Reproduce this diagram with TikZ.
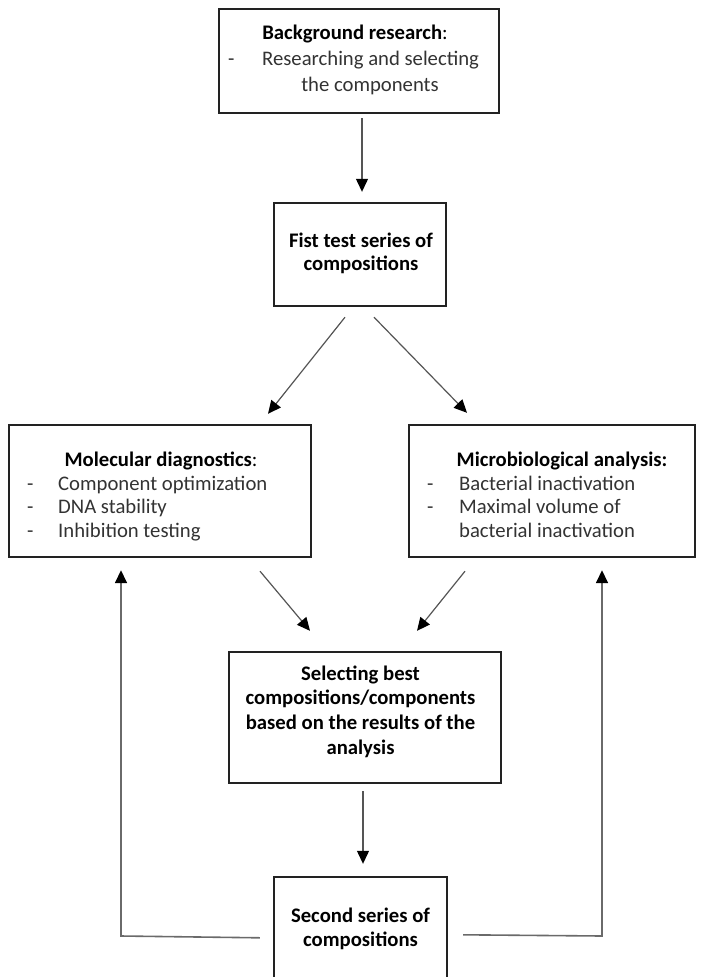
\documentclass[tikz,border=0pt]{standalone}
\usepackage{fontspec}
\setmainfont{Carlito}
\usetikzlibrary{arrows.meta,calc}
\definecolor{boxline}{HTML}{222222}
\definecolor{arrline}{HTML}{555555}
\definecolor{fbline}{HTML}{6A6A6A}
\definecolor{bodytext}{HTML}{333333}
\tikzset{
  box/.style={draw=boxline, line width=2.4pt, inner sep=0pt, fill=white},
  txt/.style={anchor=base, inner sep=0pt, font=\fontsize{20.7}{24}\selectfont, text=bodytext},
  hd/.style={txt, text=black},
  lft/.style={txt, anchor=base west},
  arr/.style={draw=arrline, line width=1.2pt, -{Triangle[length=13pt,width=12pt]}, arrows={[color=black]}},
  fb/.style={draw=fbline, line width=1.6pt, -{Triangle[length=13pt,width=12pt]}, arrows={[color=black]}}
}
\begin{document}
\begin{tikzpicture}[x=1pt,y=-1pt]
\useasboundingbox (0,0) rectangle (705,977);
\clip (0,0) rectangle (705,977);
\fill[white] (0,0) rectangle (705,977);

% boxes
\node[box, minimum width=280pt, minimum height=104pt] (b1) at (359,61) {};
\node[box, minimum width=172pt, minimum height=103pt] (b2) at (360,254.5) {};
\node[box, minimum width=302pt, minimum height=132pt] (md) at (160,491) {};
\node[box, minimum width=286pt, minimum height=132pt] (mb) at (552,491) {};
\node[box, minimum width=272pt, minimum height=131pt] (sel) at (365,717.5) {};
\node[box, minimum width=173pt, minimum height=140pt] (sb) at (360.5,947) {};

% texts: box 1
\node[hd] (b1h) at (355,39) {\textbf{Background research}:};
\node[lft] (b1d) at (228,65) {-};
\node[lft] (b1t1) at (262,65) {Researching and selecting};
\node[txt] (b1t2) at (370,91) {the components};

% box 2
\node[hd] (b2a) at (361,247.5) {\textbf{Fist test series of}};
\node[hd] (b2b) at (361,270.5) {\textbf{compositions}};

% molecular diagnostics
\node[hd] (mdh) at (161,466) {\textbf{Molecular diagnostics}:};
\node[lft] (mdd1) at (27,490) {-};
\node[lft] (mdt1) at (58,490) {Component optimization};
\node[lft] (mdd2) at (27,513.5) {-};
\node[lft] (mdt2) at (58,513.5) {DNA stability};
\node[lft] (mdd3) at (27,537) {-};
\node[lft] (mdt3) at (58,537) {Inhibition testing};

% microbiological analysis
\node[hd] (mbh) at (562,466) {\textbf{Microbiological analysis:}};
\node[lft] (mbd1) at (427,490) {-};
\node[lft] (mbt1) at (459,490) {Bacterial inactivation};
\node[lft] (mbd2) at (427,513.5) {-};
\node[lft] (mbt2) at (459,513.5) {Maximal volume of};
\node[lft] (mbt3) at (459,537) {bacterial inactivation};

% selecting box
\node[hd] (sa) at (360.5,680) {\textbf{Selecting best}};
\node[hd] (sbb) at (360.5,704.5) {\textbf{compositions/components}};
\node[hd] (sc) at (360.5,729.5) {\textbf{based on the results of the}};
\node[hd] (sd) at (360.5,754) {\textbf{analysis}};

% second series
\node[hd] (sba) at (360.5,922) {\textbf{Second series of}};
\node[hd] (sbc) at (360.5,946) {\textbf{compositions}};

% connectors
\draw[arr, shorten <=4pt, shorten >=10pt] ([xshift=3pt]b1.south) -- ([xshift=3pt]b1.south |- b2.north);
\draw[arr] ([shift={(-15,10)}]b2.south) -- ([shift={(108,-10)}]md.north);
\draw[arr] ([shift={(14,10)}]b2.south) -- ([shift={(-85,-11)}]mb.north);
\draw[arr] ([shift={(100,13)}]md.south) -- ([shift={(-55,-20)}]sel.north);
\draw[arr] ([shift={(-87,13)}]mb.south) -- ([shift={(52,-20)}]sel.north);
\draw[arr, shorten <=7pt, shorten >=12pt] ([xshift=-2pt]sel.south) -- ([xshift=-2pt]sel.south |- sb.north);

% feedback loops
\coordinate (lc) at (121,936);
\coordinate (rc) at (602,936);
\draw[fb, shorten >=12pt] ([shift={(-13,62)}]sb.north west) -- (lc) -- (lc |- md.south);
\draw[fb, shorten >=12pt] ([shift={(15,59)}]sb.north east) -- (rc) -- (rc |- mb.south);
\end{tikzpicture}
\end{document}
